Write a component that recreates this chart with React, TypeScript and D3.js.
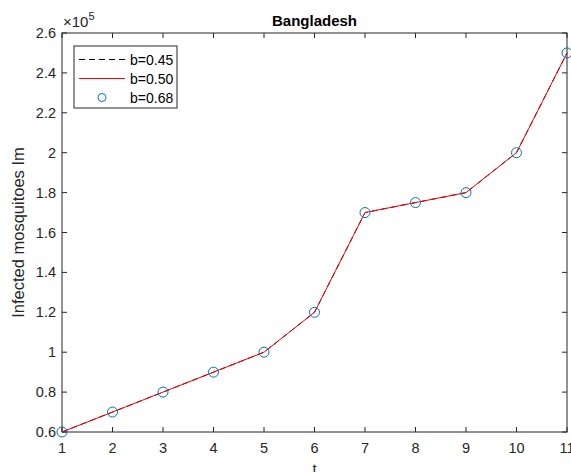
import React from 'react';
import * as d3 from 'd3';

// values
const tValues = [1, 2, 3, 4, 5, 6, 7, 8, 9, 10, 11];
const infected = [60000, 70000, 80000, 90000, 100000, 120000, 170000, 175000, 180000, 200000, 250000];
const xTicks = [1, 2, 3, 4, 5, 6, 7, 8, 9, 10, 11];
const yTicks = [0.6, 0.8, 1, 1.2, 1.4, 1.6, 1.8, 2, 2.2, 2.4, 2.6];
const legendLabels = ['b=0.45', 'b=0.50', 'b=0.68'];

const W = 571;
const H = 472;
const margin = { left: 62, right: 4, top: 33, bottom: 40 };
const font = 'Liberation Sans, Arial, Helvetica, sans-serif';

export default function App() {
  const x = d3.scaleLinear().domain([1, 11]).range([margin.left, W - margin.right]);
  const y = d3.scaleLinear().domain([0.6e5, 2.6e5]).range([H - margin.bottom, margin.top]);

  const line = d3.line<number>()
    .x((_, i) => x(tValues[i]))
    .y(d => y(d));
  const path = line(infected) || '';

  const x0 = x.range()[0], x1 = x.range()[1];
  const y0 = y.range()[0], y1 = y.range()[1];
  const tickLen = 5;
  const axisCol = '#262626';

  return (
    <svg width={W} height={H} style={{ position: 'absolute', left: 0, top: 0, background: '#fff' }}>
      <rect x={0} y={0} width={W} height={H} fill="#fff" />
      {/* ticks */}
      {xTicks.map(t => (
        <g key={'xt' + t}>
          <line x1={x(t)} x2={x(t)} y1={y0} y2={y0 - tickLen} stroke={axisCol} />
          <line x1={x(t)} x2={x(t)} y1={y1} y2={y1 + tickLen} stroke={axisCol} />
          <text x={x(t)} y={y0 + 21} textAnchor="middle" fontFamily={font} fontSize={14.5} fill={axisCol}>{t}</text>
        </g>
      ))}
      {yTicks.map(t => (
        <g key={'yt' + t}>
          <line x1={x0} x2={x0 + tickLen} y1={y(t * 1e5)} y2={y(t * 1e5)} stroke={axisCol} />
          <line x1={x1} x2={x1 - tickLen} y1={y(t * 1e5)} y2={y(t * 1e5)} stroke={axisCol} />
          <text x={x0 - 6} y={y(t * 1e5) + 5} textAnchor="end" fontFamily={font} fontSize={14.5} fill={axisCol}>{d3.format('')(t)}</text>
        </g>
      ))}
      <rect x={x0} y={y1} width={x1 - x0} height={y0 - y1} fill="none" stroke={axisCol} strokeWidth={1} />

      {/* series */}
      <path d={path} fill="none" stroke="#000" strokeWidth={1} strokeDasharray="6,4" />
      <path d={path} fill="none" stroke="#ff0000" strokeWidth={1} />
      {infected.map((v, i) => (
        <circle key={'c' + i} cx={x(tValues[i])} cy={y(v)} r={5} fill="none" stroke="#0072BD" strokeWidth={1} />
      ))}

      {/* exponent and labels */}
      <text x={x0 + 1} y={y1 - 6} fontFamily={font} fontSize={15} fill={axisCol}>
        ×10<tspan dy={-7} fontSize={11}>5</tspan>
      </text>
      <text x={(x0 + x1) / 2} y={y1 - 7} textAnchor="middle" fontFamily={font} fontSize={15} fontWeight="bold" fill="#000">Bangladesh</text>
      <text transform={`translate(24,${(y0 + y1) / 2}) rotate(-90)`} textAnchor="middle" fontFamily={font} fontSize={16.5} fill={axisCol}>Infected mosquitoes Im</text>
      <text x={(x0 + x1) / 2} y={y0 + 42} textAnchor="middle" fontFamily={font} fontSize={15} fill={axisCol}>t</text>

      {/* legend */}
      <g>
        <rect x={74} y={46} width={103} height={62} fill="#fff" stroke={axisCol} strokeWidth={1} />
        {legendLabels.map((lab, i) => {
          const ly = 59.5 + i * 19;
          return (
            <g key={lab}>
              {i === 0 && <line x1={79} x2={126} y1={ly} y2={ly} stroke="#000" strokeDasharray="6,4" />}
              {i === 1 && <line x1={79} x2={125} y1={ly} y2={ly} stroke="#ff0000" />}
              {i === 2 && <circle cx={102} cy={ly} r={4} fill="none" stroke="#0072BD" />}
              <text x={130} y={ly + 5} fontFamily={font} fontSize={14} fill="#000">{lab}</text>
            </g>
          );
        })}
      </g>
    </svg>
  );
}
